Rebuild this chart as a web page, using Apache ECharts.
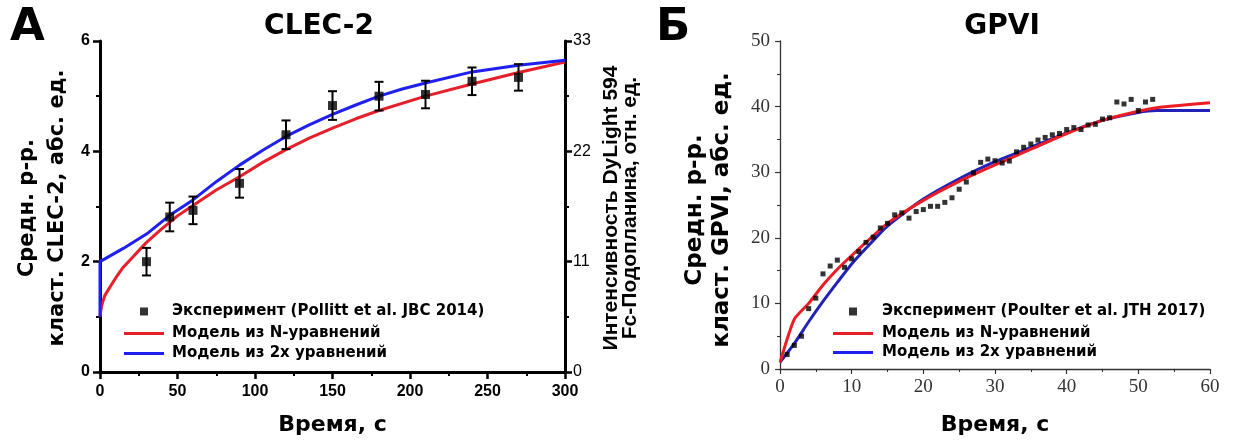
<!DOCTYPE html>
<html>
<head>
<meta charset="utf-8">
<script src="https://cdn.jsdelivr.net/npm/echarts@6/dist/echarts.min.js"></script>
<style>
html,body{margin:0;padding:0;background:#fff;}
#c{width:1235px;height:441px;}
</style>
</head>
<body>
<div id="c"></div>
<script>
// ---------- Panel A: CLEC-2 ----------
const clecTime = [30, 45, 60, 90, 120, 150, 180, 210, 240, 270];
const clecMean = [2.0, 2.81, 2.93, 3.42, 4.3, 4.83, 5.0, 5.03, 5.27, 5.34];
const clecErr  = [0.25, 0.26, 0.25, 0.26, 0.26, 0.26, 0.26, 0.25, 0.25, 0.24];

const clecNTime  = [0, 1, 3, 6, 10, 15, 20, 25, 30, 40, 50, 60, 75, 90, 105, 120, 135, 150, 165, 180, 210, 240, 270, 300];
const clecNValue = [1.0, 1.2, 1.38, 1.52, 1.7, 1.9, 2.05, 2.2, 2.35, 2.6, 2.83, 3.02, 3.3, 3.54, 3.8, 4.03, 4.24, 4.42, 4.59, 4.74, 5.0, 5.22, 5.43, 5.62];

const clec2Time  = [0, 0, 15, 30, 45, 60, 75, 90, 105, 120, 135, 150, 165, 180, 195, 210, 240, 270, 300];
const clec2Value = [1.0, 2.0, 2.24, 2.5, 2.84, 3.12, 3.45, 3.75, 4.02, 4.27, 4.48, 4.67, 4.84, 5.0, 5.13, 5.24, 5.44, 5.56, 5.65];

const clecXTicks = [0, 50, 100, 150, 200, 250, 300];
const clecYTicks = [0, 2, 4, 6];
const clecY2Ticks = [0, 11, 22, 33];

// ---------- Panel B: GPVI ----------
const gpviTime = [1,2,3,4,5,6,7,8,9,10,11,12,13,14,15,16,17,18,19,20,21,22,23,24,25,26,
                  27,28,29,30,31,32,33,34,35,36,37,38,39,40,41,42,43,44,45,46,47,48,49,50,51,52];
const gpviValue = [2.2,3.6,5.0,9.2,10.8,14.5,15.7,16.6,15.5,16.8,17.9,19.3,20.1,21.5,22.2,23.5,23.8,23.0,24.0,24.3,24.8,24.8,25.4,26.1,27.4,28.5,
                   29.9,31.5,32.0,31.75,31.4,31.7,33.1,33.8,34.3,34.9,35.3,35.7,35.9,36.5,36.8,36.5,37.2,37.3,38.1,38.3,40.7,40.4,41.1,39.4,40.7,41.1];

const gpviNTime  = [0, 2, 4, 6, 8, 10, 12, 15, 20, 25, 30, 35, 40, 45, 50, 53, 56, 60];
const gpviNValue = [1.0, 7.6, 10.0, 12.8, 15.2, 17.3, 19.3, 22.2, 25.7, 28.6, 31.1, 33.5, 35.9, 37.9, 39.3, 39.9, 40.2, 40.6];

const gpvi2Time  = [0, 2, 4, 6, 8, 10, 12, 15, 20, 25, 30, 35, 40, 45, 50, 52.5, 60];
const gpvi2Value = [1.0, 3.9, 7.2, 10.3, 13.2, 16.0, 18.4, 21.8, 25.9, 29.0, 31.6, 33.8, 36.0, 37.9, 39.1, 39.4, 39.4];

const gpviXTicks = [0, 10, 20, 30, 40, 50, 60];
const gpviYTicks = [0, 10, 20, 30, 40, 50];

const names = {
  expA: 'Эксперимент (Pollitt et al. JBC 2014)',
  expB: 'Эксперимент (Poulter et al. JTH 2017)',
  modN: 'Модель из N-уравнений',
  mod2: 'Модель из 2x уравнений'
};

const zip = (a, b) => a.map((v, i) => [v, b[i]]);

const SANS = 'DejaVu Sans';
const ARIAL = 'Liberation Sans';
const SERIF = 'Liberation Serif';

const LINE_ICON = 'path://M0,0L40,0L40,3L0,3Z';
const SQ_ICON = 'path://M0,0L8,0L8,8L0,8Z';

const chart = echarts.init(document.getElementById('c'), null, {renderer: 'canvas'});

const boldAxisA = {
  axisLine: {show: true, onZero: false, lineStyle: {color: '#000', width: 3}},
  axisTick: {show: true, inside: false, length: 7, lineStyle: {color: '#000', width: 2.5}},
  minorTick: {show: true, splitNumber: 2, length: 4, lineStyle: {color: '#000', width: 2}},
  splitLine: {show: false}
};
const thinAxisB = {
  axisLine: {show: true, onZero: false, lineStyle: {color: '#333', width: 1.3}},
  axisTick: {show: true, inside: false, length: 5, lineStyle: {color: '#333', width: 1.2}},
  minorTick: {show: true, splitNumber: 2, length: 3, lineStyle: {color: '#333', width: 1.1}},
  splitLine: {show: false}
};

const legendText = pad => ({fontFamily: SANS, fontWeight: 'bold', fontSize: 15, color: '#000', padding: [0, 0, 0, pad]});

const option = {
  backgroundColor: '#fff',
  animation: false,
  title: [
    {text: 'CLEC-2', left: 314, top: 8, textAlign: 'center',
     textStyle: {fontFamily: SANS, fontWeight: 'bold', fontSize: 28, color: '#000'}},
    {text: 'GPVI', left: 997, top: 8, textAlign: 'center',
     textStyle: {fontFamily: SANS, fontWeight: 'bold', fontSize: 28, color: '#000'}}
  ],
  grid: [
    {left: 100, top: 41, width: 465, height: 337},
    {left: 780, top: 41, width: 430, height: 337}
  ],
  xAxis: [
    Object.assign({
      gridIndex: 0, type: 'value', min: 0, max: 300, interval: 50,
      name: 'Время, с', nameLocation: 'middle', nameGap: 42,
      nameTextStyle: {fontFamily: SANS, fontWeight: 'bold', fontSize: 22, color: '#000'},
      axisLabel: {fontFamily: ARIAL, fontWeight: 'bold', fontSize: 16, color: '#000', margin: 12,
                  formatter: v => clecXTicks.includes(v) ? String(v) : ''}
    }, boldAxisA),
    Object.assign({
      gridIndex: 1, type: 'value', min: 0, max: 60, interval: 10,
      name: 'Время, с', nameLocation: 'middle', nameGap: 45,
      nameTextStyle: {fontFamily: SANS, fontWeight: 'bold', fontSize: 22, color: '#000'},
      axisLabel: {fontFamily: SERIF, fontSize: 19, color: '#333', margin: 9,
                  formatter: v => gpviXTicks.includes(v) ? String(v) : ''}
    }, thinAxisB)
  ],
  yAxis: [
    Object.assign({
      gridIndex: 0, type: 'value', min: 0, max: 6, interval: 2, position: 'left',
      axisLabel: {fontFamily: ARIAL, fontWeight: 'bold', fontSize: 16, color: '#000', margin: 10,
                  formatter: v => clecYTicks.includes(v) ? String(v) : ''}
    }, boldAxisA),
    Object.assign({
      gridIndex: 0, type: 'value', min: 0, max: 33, interval: 11, position: 'right',
      axisLabel: {fontFamily: ARIAL, fontSize: 16, color: '#000', margin: 8,
                  formatter: v => clecY2Ticks.includes(v) ? String(v) : ''}
    }, boldAxisA),
    Object.assign({
      gridIndex: 1, type: 'value', min: 0, max: 50, interval: 10, position: 'left',
      axisLabel: {fontFamily: SERIF, fontSize: 19, color: '#333', margin: 10,
                  formatter: v => gpviYTicks.includes(v) ? String(v) : ''}
    }, thinAxisB)
  ],
  legend: [
    {data: [{name: names.expA, icon: SQ_ICON}], left: 140, top: 304, orient: 'vertical', padding: 0,
     itemWidth: 8, itemHeight: 18, selectedMode: false, textStyle: legendText(19)},
    {data: [{name: names.modN, icon: LINE_ICON}, {name: names.mod2, icon: LINE_ICON}], left: 124, top: 326,
     orient: 'vertical', padding: 0, itemWidth: 40, itemHeight: 18, itemGap: 5, selectedMode: false, textStyle: legendText(3)},
    {data: [{name: names.expB, icon: SQ_ICON}], left: 849, top: 304, orient: 'vertical', padding: 0,
     itemWidth: 8, itemHeight: 18, selectedMode: false, textStyle: legendText(20)},
    {data: [{name: names.modN, icon: LINE_ICON}, {name: names.mod2, icon: LINE_ICON}], left: 833, top: 326,
     orient: 'vertical', padding: 0, itemWidth: 40, itemHeight: 18, itemGap: 4, selectedMode: false, textStyle: legendText(4)}
  ],
  graphic: [
    {type: 'text', x: 10, y: 6, style: {text: 'А', fontFamily: SANS, fontWeight: 'bold', fontSize: 45, fill: '#000'}},
    {type: 'text', x: 656, y: 6, style: {text: 'Б', fontFamily: SANS, fontWeight: 'bold', fontSize: 45, fill: '#000'}},
    {type: 'text', x: 43, y: 208, rotation: Math.PI / 2,
     style: {text: 'Средн. р-р.\nкласт. CLEC-2, абс. ед.', fontFamily: SANS, fontWeight: 'bold', fontSize: 21,
             lineHeight: 30, align: 'center', verticalAlign: 'middle', fill: '#000'}},
    {type: 'text', x: 621, y: 208, rotation: Math.PI / 2,
     style: {text: 'Интенсивность DyLight 594\nFc-Подопланина, отн. ед.', fontFamily: ARIAL, fontWeight: 'bold', fontSize: 21,
             lineHeight: 19, align: 'center', verticalAlign: 'middle', fill: '#000'}},
    {type: 'text', x: 709, y: 210, rotation: Math.PI / 2,
     style: {text: 'Средн. р-р.\nкласт. GPVI, абс. ед.', fontFamily: SANS, fontWeight: 'bold', fontSize: 23,
             lineHeight: 27, align: 'center', verticalAlign: 'middle', fill: '#000'}}
  ],
  series: [
    {name: names.modN, type: 'line', xAxisIndex: 0, yAxisIndex: 0, data: zip(clecNTime, clecNValue),
     showSymbol: false, symbol: 'none', smooth: false, lineStyle: {color: '#e5202a', width: 3}, itemStyle: {color: '#e5202a'}, z: 2},
    {name: names.mod2, type: 'line', xAxisIndex: 0, yAxisIndex: 0, data: zip(clec2Time, clec2Value),
     showSymbol: false, symbol: 'none', smooth: false, lineStyle: {color: '#1f1ff2', width: 3}, itemStyle: {color: '#1f1ff2'}, z: 3},
    {type: 'custom', xAxisIndex: 0, yAxisIndex: 0, z: 4,
     data: clecTime.map((t, i) => [t, clecMean[i] - clecErr[i], clecMean[i] + clecErr[i]]),
     renderItem: function (params, api) {
       const lo = api.coord([api.value(0), api.value(1)]);
       const hi = api.coord([api.value(0), api.value(2)]);
       const w = 4.5;
       const st = {stroke: '#000', lineWidth: 2};
       return {type: 'group', children: [
         {type: 'line', shape: {x1: lo[0], y1: lo[1], x2: hi[0], y2: hi[1]}, style: st},
         {type: 'line', shape: {x1: lo[0] - w, y1: lo[1], x2: lo[0] + w, y2: lo[1]}, style: st},
         {type: 'line', shape: {x1: hi[0] - w, y1: hi[1], x2: hi[0] + w, y2: hi[1]}, style: st}
       ]};
     }},
    {name: names.expA, type: 'scatter', xAxisIndex: 0, yAxisIndex: 0, data: zip(clecTime, clecMean),
     symbol: 'rect', symbolSize: 9, itemStyle: {color: '#000'}, z: 5},

    {name: names.mod2, type: 'line', xAxisIndex: 1, yAxisIndex: 2, data: zip(gpvi2Time, gpvi2Value),
     showSymbol: false, symbol: 'none', smooth: 0.2, lineStyle: {color: '#2222b8', width: 3}, itemStyle: {color: '#2222b8'}, z: 2},
    {name: names.modN, type: 'line', xAxisIndex: 1, yAxisIndex: 2, data: zip(gpviNTime, gpviNValue),
     showSymbol: false, symbol: 'none', smooth: 0.2, lineStyle: {color: '#ec1c24', width: 3}, itemStyle: {color: '#ec1c24'}, z: 3},
    {name: names.expB, type: 'scatter', xAxisIndex: 1, yAxisIndex: 2, data: zip(gpviTime, gpviValue),
     symbol: 'rect', symbolSize: 5, itemStyle: {color: '#000'}, z: 4}
  ]
};
chart.setOption(option);
</script>
</body>
</html>
